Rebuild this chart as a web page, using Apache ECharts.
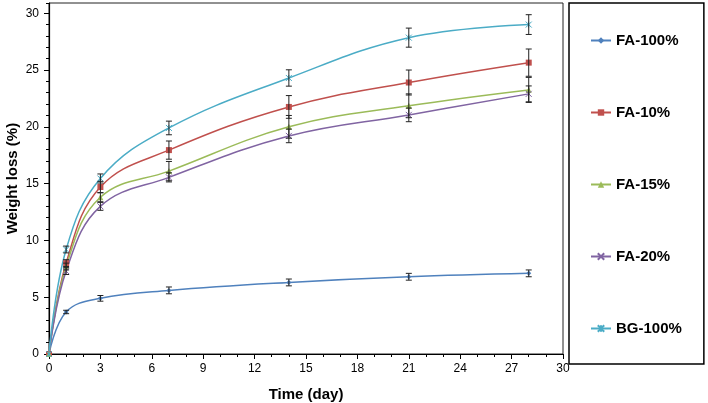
<!DOCTYPE html>
<html>
<head>
<meta charset="utf-8">
<script src="https://cdn.jsdelivr.net/npm/echarts@6/dist/echarts.min.js"></script>
<style>html,body{margin:0;padding:0;background:#fff}#c{width:708px;height:403px}</style>
</head>
<body>
<div id="c"></div>
<script>
const days = [0, 1, 3, 7, 14, 21, 28];
const seriesNames = ['FA-100%', 'FA-10%', 'FA-15%', 'FA-20%', 'BG-100%'];
const fa100 = [0, 3.7, 4.9, 5.6, 6.3, 6.8, 7.1];
const fa100Err = [0, 0.15, 0.25, 0.3, 0.3, 0.3, 0.3];
const fa10 = [0, 8.0, 14.7, 17.95, 21.75, 23.9, 25.65];
const fa10Err = [0, 0.3, 0.5, 0.8, 1.0, 1.1, 1.2];
const fa15 = [0, 7.7, 13.8, 16.1, 20.0, 21.85, 23.25];
const fa15Err = [0, 0.3, 0.4, 0.85, 1.0, 1.05, 1.1];
const fa20 = [0, 7.3, 13.0, 15.55, 19.2, 21.05, 22.9];
const fa20Err = [0, 0.3, 0.35, 0.4, 0.6, 0.6, 0.7];
const bg100 = [0, 9.2, 15.45, 19.9, 24.3, 27.85, 29.0];
const bg100Err = [0, 0.3, 0.4, 0.6, 0.72, 0.84, 0.87];
const xTicks = [0, 3, 6, 9, 12, 15, 18, 21, 24, 27, 30];
const yTicks = [0, 5, 10, 15, 20, 25, 30];

const values = [fa100, fa10, fa15, fa20, bg100];
const errors = [fa100Err, fa10Err, fa15Err, fa20Err, bg100Err];
const colors = ['#4F81BD', '#C0504D', '#9BBB59', '#8064A2', '#4BACC6'];
const symbols = ['diamond', 'rect', 'triangle',
  'path://M0,0L10,10M10,0L0,10',
  'path://M0,0L10,10M10,0L0,10M5,0L5,10'];
const symbolSizes = [5, 6, 6, 6, 6];

const font = 'Liberation Sans, Arial, sans-serif';
const series = [];
values.forEach((vals, i) => {
  series.push({
    name: seriesNames[i],
    type: 'line',
    smooth: 0.4,
    data: days.map((d, k) => [d, vals[k]]),
    symbol: symbols[i],
    symbolSize: symbolSizes[i],
    showAllSymbol: true,
    lineStyle: { color: colors[i], width: 1.5 },
    itemStyle: { color: colors[i], borderColor: colors[i], borderWidth: i >= 3 ? 1 : 0 },
    z: 2
  });
});
values.forEach((vals, i) => {
  series.push({
    name: seriesNames[i] + ' err',
    type: 'custom',
    data: days.map((d, k) => [d, vals[k] - errors[i][k], vals[k] + errors[i][k]]).filter((r, k) => errors[i][k] > 0),
    renderItem: function (params, api) {
      const lo = api.coord([api.value(0), api.value(1)]);
      const hi = api.coord([api.value(0), api.value(2)]);
      const w = 3;
      const st = { stroke: '#222', lineWidth: 1 };
      return {
        type: 'group',
        children: [
          { type: 'line', shape: { x1: lo[0], y1: lo[1], x2: hi[0], y2: hi[1] }, style: st },
          { type: 'line', shape: { x1: lo[0] - w, y1: lo[1], x2: lo[0] + w, y2: lo[1] }, style: st },
          { type: 'line', shape: { x1: hi[0] - w, y1: hi[1], x2: hi[0] + w, y2: hi[1] }, style: st }
        ]
      };
    },
    z: 3,
    silent: true
  });
});

const chart = echarts.init(document.getElementById('c'), null, { renderer: 'canvas' });
chart.setOption({
  animation: false,
  backgroundColor: '#fff',
  grid: { left: 49, top: 3, right: 145, bottom: 49, show: true, borderColor: '#222', borderWidth: 1,
    containLabel: false, outerBoundsMode: 'none' },
  xAxis: [{
    type: 'value', min: 0, max: 30, interval: 3,
    name: 'Time (day)', nameLocation: 'middle', nameGap: 33, nameMoveOverlap: false,
    nameTextStyle: { fontFamily: font, fontWeight: 'bold', fontSize: 15, color: '#000' },
    axisLine: { show: true, lineStyle: { color: '#000', width: 1.2 } },
    axisTick: { show: true, length: 5, lineStyle: { color: '#000' } },
    minorTick: { show: true, splitNumber: 3, length: 3, lineStyle: { color: '#000' } },
    splitLine: { show: false },
    axisLabel: { fontFamily: font, fontSize: 12, color: '#000', margin: 9,
      formatter: v => xTicks.includes(v) ? String(v) : '' }
  }],
  yAxis: [{
    type: 'value', min: 0, max: 30.9, interval: 5,
    name: 'Weight loss (%)', nameLocation: 'middle', nameGap: 29, nameRotate: 90, nameMoveOverlap: false,
    nameTextStyle: { fontFamily: font, fontWeight: 'bold', fontSize: 15, color: '#000' },
    axisLine: { show: true, lineStyle: { color: '#000', width: 1.2 } },
    axisTick: { show: true, length: 5, lineStyle: { color: '#000' } },
    splitLine: { show: false },
    axisLabel: { fontFamily: font, fontSize: 12, color: '#000', margin: 10, showMaxLabel: false,
      formatter: v => yTicks.includes(v) ? String(v) : '' }
  }, {
    type: 'value', min: 0, max: 30.9, interval: 1, position: 'left',
    axisLine: { show: false },
    axisTick: { show: true, length: 3, lineStyle: { color: '#000' } },
    axisLabel: { show: false },
    splitLine: { show: false }
  }],
  legend: {
    data: seriesNames,
    orient: 'vertical',
    left: 569, top: 3,
    padding: [30, 22, 28, 21],
    itemGap: 57,
    itemWidth: 20, itemHeight: 8,
    borderColor: '#000', borderWidth: 1.5,
    textStyle: { fontFamily: font, fontWeight: 'bold', fontSize: 15, color: '#000' }
  },
  series: series
});
</script>
</body>
</html>
